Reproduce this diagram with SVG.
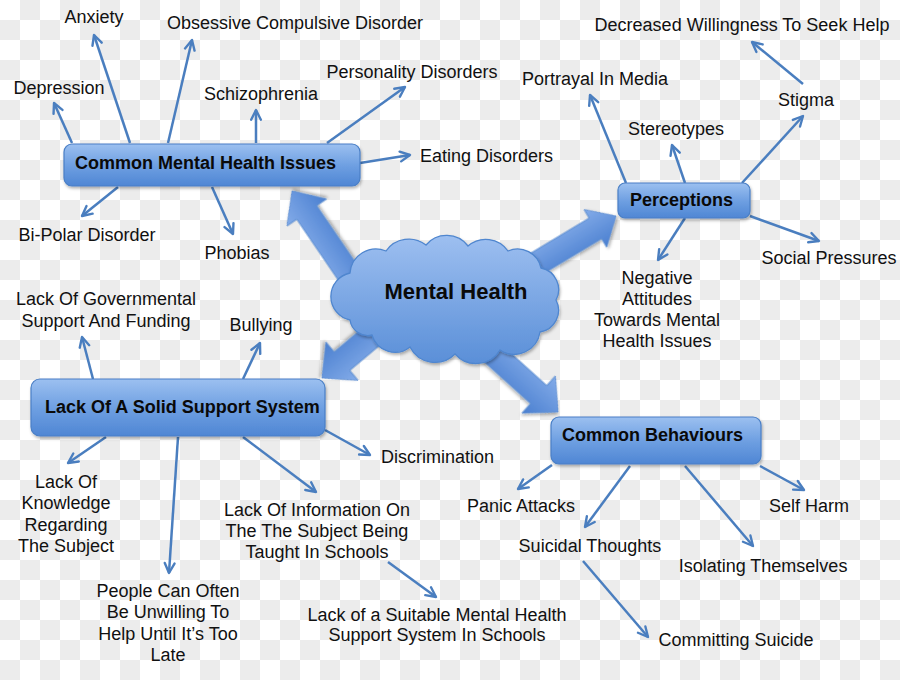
<svg xmlns="http://www.w3.org/2000/svg" width="900" height="680" viewBox="0 0 900 680">
<defs>
<pattern id="checker" width="40" height="40" patternUnits="userSpaceOnUse">
<rect width="40" height="40" fill="#ffffff"/>
<rect x="20" y="0" width="20" height="20" fill="#ececec"/>
<rect x="0" y="20" width="20" height="20" fill="#ececec"/>
</pattern>
<linearGradient id="boxGrad" x1="0" y1="0" x2="0" y2="1">
<stop offset="0" stop-color="#9cc0f0"/>
<stop offset="0.5" stop-color="#6fa0e2"/>
<stop offset="1" stop-color="#4f86d4"/>
</linearGradient>
<linearGradient id="cloudGrad" x1="0" y1="0" x2="0" y2="1">
<stop offset="0" stop-color="#9dbff0"/>
<stop offset="1" stop-color="#5a8fd8"/>
</linearGradient>
<linearGradient id="arrowGrad" x1="0" y1="0" x2="0" y2="1">
<stop offset="0" stop-color="#84ace9"/>
<stop offset="1" stop-color="#4a7fd0"/>
</linearGradient>
<filter id="shadow" x="-20%" y="-20%" width="140%" height="150%">
<feDropShadow dx="1" dy="2" stdDeviation="1.5" flood-color="#000" flood-opacity="0.3"/>
</filter>
<marker id="arr" viewBox="0 0 12 12" markerUnits="userSpaceOnUse" markerWidth="13" markerHeight="13" refX="10.5" refY="6" orient="auto">
<path d="M1.5,1.5 L10.5,6 L1.5,10.5" fill="none" stroke="#4a7ebf" stroke-width="2.2" stroke-linecap="round" stroke-linejoin="round"/>
</marker>
<style>
.lbl{font-family:"Liberation Sans",Arial,sans-serif;font-size:18px;fill:#111;}
.mid{text-anchor:middle;}
.boxt{font-family:"Liberation Sans",Arial,sans-serif;font-size:18px;font-weight:bold;fill:#0a0a0a;}
.box{fill:url(#boxGrad);stroke:#4a7fc6;stroke-width:1.2;filter:url(#shadow);}
.conn line{stroke:#4a7ebf;stroke-width:2.5;marker-end:url(#arr);}
.big{fill:url(#arrowGrad);stroke:#5f8fd2;stroke-width:1;filter:url(#shadow);}
</style>
</defs>

<rect width="900" height="680" fill="url(#checker)"/>

<g id="block-arrows">
<polygon class="big" points="0,-12 86,-12 86,-24 112,0 86,24 86,12 0,12" transform="translate(355.2,283.5) rotate(235.7)"/>
<polygon class="big" points="0,-12 76,-12 76,-22 100,0 76,22 76,12 0,12" transform="translate(530.3,267.5) rotate(-31)"/>
<polygon class="big" points="0,-12 69,-12 69,-25 95,0 69,25 69,12 0,12" transform="translate(394.8,316.9) rotate(140)"/>
<polygon class="big" points="0,-12 84,-12 84,-25 110,0 84,25 84,12 0,12" transform="translate(476.3,338.4) rotate(42)"/>
</g>

<g class="conn" id="connectors">
<line x1="72" y1="143" x2="54" y2="103"/>
<line x1="130" y1="143" x2="94" y2="35"/>
<line x1="168" y1="143" x2="192" y2="40"/>
<line x1="256" y1="143" x2="256" y2="110"/>
<line x1="327" y1="143" x2="405" y2="87"/>
<line x1="360" y1="163" x2="410" y2="155"/>
<line x1="118" y1="187" x2="82" y2="216"/>
<line x1="212" y1="187" x2="233" y2="234"/>
<line x1="626" y1="183" x2="590" y2="95"/>
<line x1="685" y1="183" x2="672" y2="145"/>
<line x1="742" y1="183" x2="803" y2="116"/>
<line x1="803" y1="84" x2="752" y2="42"/>
<line x1="750" y1="216" x2="819" y2="241"/>
<line x1="685" y1="218" x2="658" y2="260"/>
<line x1="93" y1="379" x2="82" y2="337"/>
<line x1="243" y1="379" x2="260" y2="343"/>
<line x1="106" y1="437" x2="68" y2="463"/>
<line x1="178" y1="437" x2="169" y2="573"/>
<line x1="243" y1="437" x2="316" y2="492"/>
<line x1="325" y1="430" x2="370" y2="455"/>
<line x1="388" y1="562" x2="436" y2="597"/>
<line x1="552" y1="465" x2="518" y2="489"/>
<line x1="630" y1="466" x2="585" y2="527"/>
<line x1="685" y1="466" x2="753" y2="546"/>
<line x1="760" y1="466" x2="804" y2="490"/>
<line x1="583" y1="561" x2="648" y2="637"/>
</g>

<g id="mental-health">
<path d="M350,320 A24,24 0 0 1 350,273 A26,26 0 0 1 386,251 A28,28 0 0 1 426,245 A27,27 0 0 1 468,246 A27,27 0 0 1 508,251 A24,24 0 0 1 541,268 A22,22 0 0 1 556,300 A22,22 0 0 1 540,332 A26,26 0 0 1 500,350 A28,28 0 0 1 455,354 A28,28 0 0 1 410,347 A24,24 0 0 1 372,335 A18,18 0 0 1 350,320 Z" fill="url(#cloudGrad)" stroke="#4f86cf" stroke-width="1.3" filter="url(#shadow)"/>
<text x="456" y="299" class="boxt mid" style="font-size:22px">Mental Health</text>
</g>

<g id="common-mental-health-issues">
<rect class="box" x="64" y="144" width="296" height="42" rx="8"/>
<text x="75" y="169" class="boxt">Common Mental Health Issues</text>
</g>
<g id="perceptions">
<rect class="box" x="618" y="183" width="132" height="35" rx="7"/>
<text x="630" y="206" class="boxt">Perceptions</text>
</g>
<g id="lack-of-support">
<rect class="box" x="31" y="379" width="294" height="57" rx="9"/>
<text x="45" y="413" class="boxt">Lack Of A Solid Support System</text>
</g>
<g id="common-behaviours">
<rect class="box" x="551" y="417" width="210" height="47" rx="8"/>
<text x="562" y="441" class="boxt">Common Behaviours</text>
</g>

<g id="anxiety"><text x="94" y="23" class="lbl mid">Anxiety</text></g>
<g id="ocd"><text x="295" y="29" class="lbl mid">Obsessive Compulsive Disorder</text></g>
<g id="depression"><text x="59" y="94" class="lbl mid">Depression</text></g>
<g id="schizophrenia"><text x="261" y="100" class="lbl mid">Schizophrenia</text></g>
<g id="personality"><text x="412" y="78" class="lbl mid">Personality Disorders</text></g>
<g id="eating"><text x="420" y="162" class="lbl">Eating Disorders</text></g>
<g id="bipolar"><text x="87" y="241" class="lbl mid">Bi-Polar Disorder</text></g>
<g id="phobias"><text x="237" y="259" class="lbl mid">Phobias</text></g>

<g id="decreased"><text x="742" y="31" class="lbl mid">Decreased Willingness To Seek Help</text></g>
<g id="portrayal"><text x="595" y="85" class="lbl mid">Portrayal In Media</text></g>
<g id="stigma"><text x="806" y="106" class="lbl mid">Stigma</text></g>
<g id="stereotypes"><text x="676" y="135" class="lbl mid">Stereotypes</text></g>
<g id="social"><text x="829" y="264" class="lbl mid">Social Pressures</text></g>
<g id="negative"><text class="lbl mid"><tspan x="657" y="284">Negative</tspan><tspan x="657" y="305">Attitudes</tspan><tspan x="657" y="326">Towards Mental</tspan><tspan x="657" y="347">Health Issues</tspan></text></g>

<g id="governmental"><text class="lbl mid"><tspan x="106" y="305">Lack Of Governmental</tspan><tspan x="106" y="327">Support And Funding</tspan></text></g>
<g id="bullying"><text x="261" y="331" class="lbl mid">Bullying</text></g>
<g id="discrimination"><text x="381" y="463" class="lbl">Discrimination</text></g>
<g id="knowledge"><text class="lbl mid"><tspan x="66" y="488">Lack Of</tspan><tspan x="66" y="509">Knowledge</tspan><tspan x="66" y="531">Regarding</tspan><tspan x="66" y="552">The Subject</tspan></text></g>
<g id="information"><text class="lbl mid"><tspan x="317" y="516">Lack Of Information On</tspan><tspan x="317" y="537">The The Subject Being</tspan><tspan x="317" y="558">Taught In Schools</tspan></text></g>
<g id="unwilling"><text class="lbl mid"><tspan x="168" y="597">People Can Often</tspan><tspan x="168" y="618">Be Unwilling To</tspan><tspan x="168" y="640">Help Until It’s Too</tspan><tspan x="168" y="661">Late</tspan></text></g>
<g id="suitable"><text class="lbl mid"><tspan x="437" y="621">Lack of a Suitable Mental Health</tspan><tspan x="437" y="641">Support System In Schools</tspan></text></g>

<g id="panic"><text x="521" y="512" class="lbl mid">Panic Attacks</text></g>
<g id="selfharm"><text x="809" y="512" class="lbl mid">Self Harm</text></g>
<g id="suicidal"><text x="590" y="552" class="lbl mid">Suicidal Thoughts</text></g>
<g id="isolating"><text x="763" y="572" class="lbl mid">Isolating Themselves</text></g>
<g id="committing"><text x="736" y="646" class="lbl mid">Committing Suicide</text></g>
</svg>
